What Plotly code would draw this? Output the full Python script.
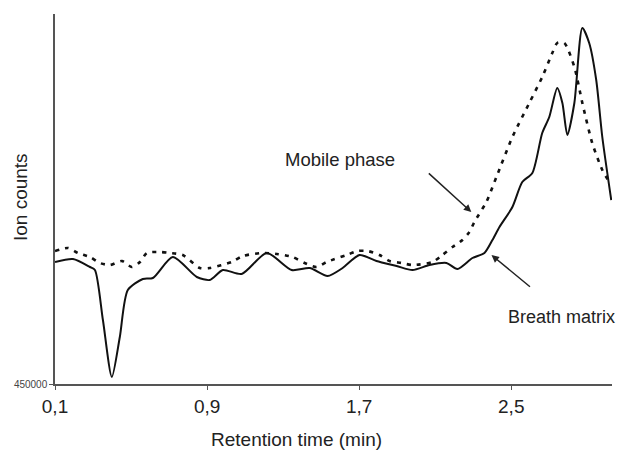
import plotly.graph_objects as go

# Breath matrix (solid)
breath_t = [0.100, 0.195, 0.284, 0.310, 0.352, 0.399, 0.441, 0.483, 0.562, 0.615,
            0.720, 0.846, 0.914, 0.983, 1.082, 1.214, 1.345, 1.440, 1.534, 1.613,
            1.702, 1.791, 1.897, 1.981, 2.070, 2.159, 2.217, 2.296, 2.359, 2.401,
            2.438, 2.506, 2.558, 2.611, 2.663, 2.700, 2.742, 2.769, 2.795, 2.832,
            2.874, 2.910, 2.947, 2.979, 3.026]
breath_y = [694000, 700000, 684000, 678000, 578000, 464000, 544000, 638000, 660000, 662000,
            704000, 664000, 658000, 678000, 670000, 712000, 678000, 682000, 666000, 682000,
            708000, 696000, 686000, 678000, 688000, 692000, 680000, 702000, 712000, 738000,
            764000, 804000, 854000, 872000, 952000, 984000, 1042000, 1012000, 948000, 1012000,
            1162000, 1132000, 1058000, 944000, 818000]

# Mobile phase (dotted)
mobile_t = [0.100, 0.168, 0.221, 0.284, 0.336, 0.389, 0.452, 0.504, 0.547, 0.583,
            0.652, 0.704, 0.772, 0.862, 0.914, 1.030, 1.088, 1.193, 1.266, 1.350,
            1.413, 1.476, 1.529, 1.634, 1.692, 1.744, 1.807, 1.860, 1.923, 1.981,
            2.086, 2.138, 2.191, 2.243, 2.280, 2.306, 2.369, 2.422, 2.506, 2.595,
            2.663, 2.716, 2.742, 2.779, 2.832, 2.874, 2.926, 2.979, 3.016]
mobile_y = [716000, 722000, 712000, 704000, 692000, 688000, 696000, 684000, 694000, 712000,
            714000, 712000, 708000, 682000, 682000, 694000, 706000, 712000, 710000, 704000,
            692000, 684000, 694000, 708000, 716000, 716000, 708000, 696000, 692000, 688000,
            694000, 708000, 724000, 738000, 754000, 774000, 814000, 864000, 944000, 1012000,
            1064000, 1112000, 1132000, 1132000, 1084000, 1012000, 932000, 878000, 854000]

x_tickvals = [0.1, 0.9, 1.7, 2.5]
x_ticktext = ["0,1", "0,9", "1,7", "2,5"]
y_tickvals = [450000]
y_ticktext = ["450000"]

FONT = "Liberation Sans, Arial"

fig = go.Figure()
fig.add_trace(go.Scatter(x=mobile_t, y=mobile_y, mode="lines", name="Mobile phase",
                         line=dict(color="#111111", width=2.6, dash="4px,6px", shape="spline", smoothing=0.7)))
fig.add_trace(go.Scatter(x=breath_t, y=breath_y, mode="lines", name="Breath matrix",
                         line=dict(color="#111111", width=2, shape="spline", smoothing=0.7)))

fig.add_annotation(x=2.29, y=794000, ax=-44, ay=-40, text="", showarrow=True,
                   arrowhead=2, arrowsize=1, arrowwidth=1.5, arrowcolor="#222222")
fig.add_annotation(x=2.396, y=708000, ax=40, ay=33, text="", showarrow=True,
                   arrowhead=2, arrowsize=1, arrowwidth=1.5, arrowcolor="#222222")
fig.add_annotation(x=1.597, y=900000, text="Mobile phase", showarrow=False,
                   xanchor="center", yanchor="middle",
                   font=dict(size=18.5, color="#222222", family=FONT))
fig.add_annotation(x=2.765, y=584000, text="Breath matrix", showarrow=False,
                   xanchor="center", yanchor="middle",
                   font=dict(size=18, color="#222222", family=FONT))

# axis titles
fig.add_annotation(xref="paper", yref="paper", x=-0.063, y=0.505, text="Ion counts",
                   xanchor="center", yanchor="middle",
                   textangle=-90, showarrow=False, font=dict(size=19, color="#222222", family=FONT))
fig.add_annotation(xref="paper", yref="paper", x=0.434, y=-0.151, text="Retention time (min)",
                   xanchor="center", yanchor="middle",
                   showarrow=False, font=dict(size=19, color="#222222", family=FONT))

# page body has an 8px default margin, so the figure is sized/offset to compensate
fig.update_layout(
    width=617, height=442,
    margin=dict(l=47, r=13, t=6, b=66),
    paper_bgcolor="white", plot_bgcolor="white",
    showlegend=False,
    font=dict(family=FONT, color="#222222"),
    xaxis=dict(range=[0.1, 3.03], tickvals=x_tickvals, ticktext=x_ticktext,
               showgrid=False, zeroline=False, showline=True, linecolor="#555555", linewidth=1.5,
               ticks="outside", ticklen=4, tickcolor="#555555", automargin=False,
               tickfont=dict(size=19, color="#222222")),
    yaxis=dict(range=[450000, 1190000], tickvals=y_tickvals, ticktext=y_ticktext,
               showgrid=False, zeroline=False, showline=True, linecolor="#555555", linewidth=1.5,
               ticks="outside", ticklen=4, tickcolor="#555555", automargin=False,
               tickfont=dict(size=10, color="#444444")),
)

fig.write_html("out.html")
